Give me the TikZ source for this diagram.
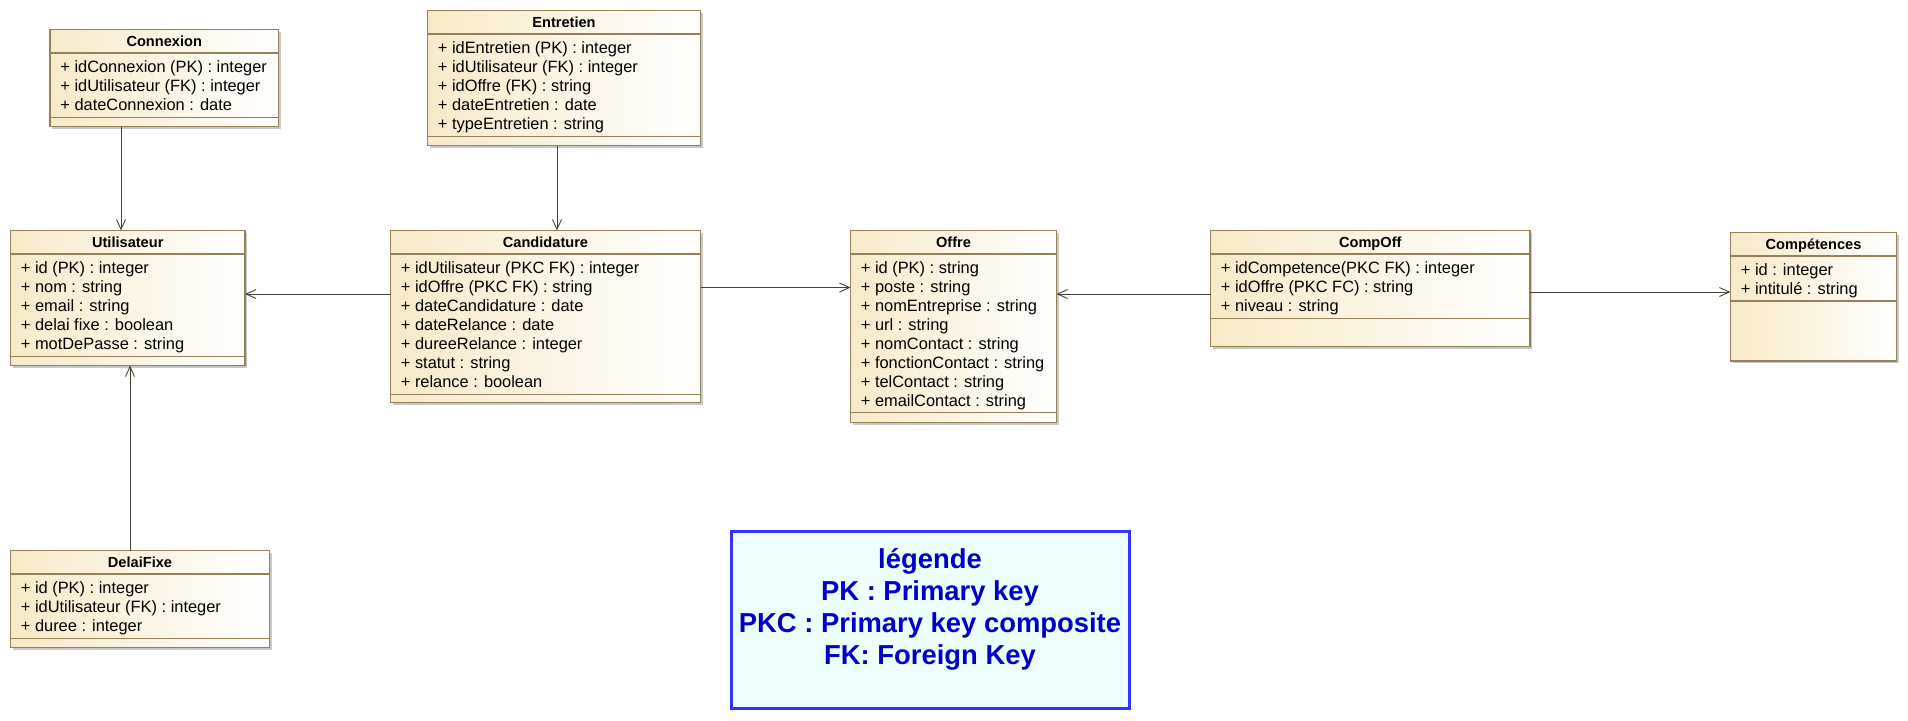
\documentclass[tikz,border=0pt]{standalone}
\usepackage{fontspec}
\setmainfont{Liberation Sans}
\usetikzlibrary{arrows.meta}
\definecolor{clsborder}{RGB}{150,128,88}
\definecolor{clsfill}{RGB}{248,234,200}
\definecolor{linec}{RGB}{70,64,54}
\definecolor{shadowc}{RGB}{200,200,200}
\definecolor{legborder}{RGB}{51,51,255}
\definecolor{legfill}{RGB}{238,255,255}
\definecolor{legtext}{RGB}{0,0,200}
\tikzset{
  clsbox/.style={draw=clsborder, line width=0.75pt, left color=clsfill, right color=white, inner sep=0pt, outer sep=0pt},
  clsline/.style={draw=clsborder, line width=0.75pt},
  clsshadow/.style={fill=shadowc},
  clstitle/.style={font=\bfseries\fontsize{7.3}{9}\selectfont, inner sep=0pt, anchor=base},
  attr/.style={font=\fontsize{8.2}{9.5}\selectfont, inner sep=0pt, anchor=base west},
  assoc/.style={draw=linec, line width=0.45pt, -{Straight Barb[length=5pt,width=4.5pt,line width=0.45pt]}},
  legendbox/.style={draw=legborder, line width=1.5pt, fill=legfill, inner sep=0pt, outer sep=0pt},
  legendtxt/.style={font=\bfseries\fontsize{13.7}{16}\selectfont, text=legtext, inner sep=0pt, anchor=base},
}
% #1 name, #2 x1, #3 y1, #4 x2, #5 y2, #6 title, #7 bottom separator y, #8 rows
\newcommand{\umlclass}[8]{%
  \fill[clsshadow] (#2+2,#3+2) rectangle (#4+2,#5+2);
  \node[clsbox, anchor=north west, minimum width={(#4-#2)*0.5pt}, minimum height={(#5-#3)*0.5pt}] (#1) at (#2,#3) {};
  \node[clstitle] (#1-title) at ({(#2+#4)/2},#3+17.4) {#6};
  \draw[clsline] ([yshift=-11.8pt]#1.north west) -- ([yshift=-11.8pt]#1.north east);
  \draw[clsline] (#1.west |- 0,#7) -- (#1.east |- 0,#7);
  \foreach \attrtxt [count=\i] in {#8} {
    \node[attr] (#1-a\i) at (#2+10,{#3+43+(\i-1)*19}) {\attrtxt};
  }%
}
\begin{document}
\begin{tikzpicture}[x=0.5pt,y=-0.5pt]
\useasboundingbox (0,0) rectangle (1908,720);
\fill[white] (0,0) rectangle (1908,720);

\umlclass{conn}{50}{29.5}{278.5}{126.5}{Connexion}{117.5}{{+ idConnexion (PK) : integer},{+ idUtilisateur (FK) : integer},{+ dateConnexion : date}}
\umlclass{entr}{427.5}{10.5}{700.5}{145.5}{Entretien}{136.5}{{+ idEntretien (PK) : integer},{+ idUtilisateur (FK) : integer},{+ idOffre (FK) : string},{+ dateEntretien : date},{+ typeEntretien : string}}
\umlclass{util}{10.5}{230.5}{245}{365.5}{Utilisateur}{356.5}{{+ id (PK) : integer},{+ nom : string},{+ email : string},{+ delai fixe : boolean},{+ motDePasse : string}}
\umlclass{cand}{390.5}{230.5}{700.5}{402.5}{Candidature}{394.5}{{+ idUtilisateur (PKC FK) : integer},{+ idOffre (PKC FK) : string},{+ dateCandidature : date},{+ dateRelance : date},{+ dureeRelance : integer},{+ statut : string},{+ relance : boolean}}
\umlclass{offre}{850.5}{230.5}{1056.5}{422.5}{Offre}{412.5}{{+ id (PK) : string},{+ poste : string},{+ nomEntreprise : string},{+ url : string},{+ nomContact : string},{+ fonctionContact : string},{+ telContact : string},{+ emailContact : string}}
\umlclass{compoff}{1210.5}{230.5}{1530}{346.5}{CompOff}{318.5}{{+ idCompetence(PKC FK) : integer},{+ idOffre (PKC FC) : string},{+ niveau : string}}
\umlclass{comp}{1730.5}{232.5}{1896.5}{361}{Compétences}{301}{{+ id : integer},{+ intitulé : string}}
\umlclass{delai}{10.5}{550.5}{269.5}{647.5}{DelaiFixe}{638.5}{{+ id (PK) : integer},{+ idUtilisateur (FK) : integer},{+ duree : integer}}

% connectors
\draw[assoc] (conn.south -| 121,0) -- (util.north -| 121,0);
\draw[assoc] (entr.south -| 557,0) -- (cand.north -| 557,0);
\draw[assoc] (cand.west |- 0,294) -- (util.east |- 0,294);
\draw[assoc] (cand.east |- 0,287.5) -- (offre.west |- 0,287.5);
\draw[assoc] (compoff.west |- 0,294) -- (offre.east |- 0,294);
\draw[assoc] (compoff.east |- 0,292) -- (comp.west |- 0,292);
\draw[assoc] (delai.north -| 130,0) -- (util.south -| 130,0);

% legend
\node[legendbox, anchor=north west, minimum width={398*0.5pt}, minimum height={177*0.5pt}] (legend) at (731,531.5) {};
\node[legendtxt] (leg1) at (930,568.5) {légende};
\node[legendtxt] (leg2) at (930,600.5) {PK : Primary key};
\node[legendtxt] (leg3) at (930,632.5) {PKC : Primary key composite};
\node[legendtxt] (leg4) at (930,664.3) {FK: Foreign Key};
\end{tikzpicture}
\end{document}
